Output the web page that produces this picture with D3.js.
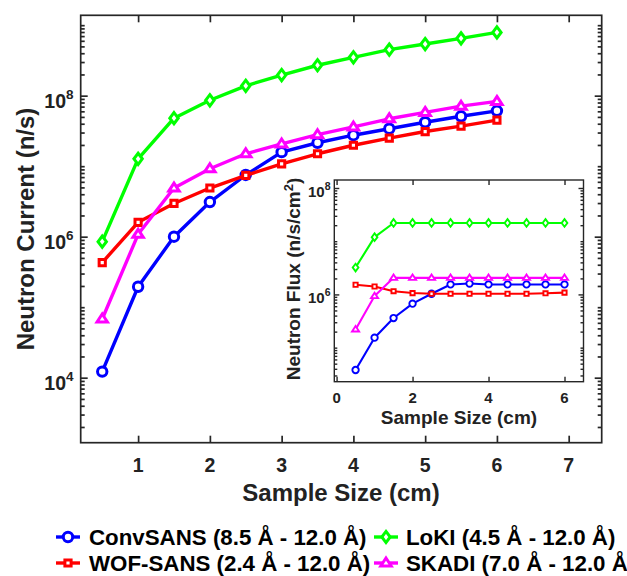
<!DOCTYPE html>
<html><head><meta charset="utf-8">
<script src="https://cdn.jsdelivr.net/npm/d3@7"></script>
<style>
html,body{margin:0;padding:0;background:#fff;}
svg{display:block;font-family:"Liberation Sans",Arial,sans-serif;font-weight:bold;}
</style></head>
<body>
<svg id="chart" width="627" height="576"></svg>
<script>
// ---------- data ----------
const sampleSizes = [0.5, 1, 1.5, 2, 2.5, 3, 3.5, 4, 4.5, 5, 5.5, 6];
const seriesNames = ["ConvSANS (8.5 Å - 12.0 Å)", "WOF-SANS (2.4 Å - 12.0 Å)", "LoKI (4.5 Å - 12.0 Å)", "SKADI (7.0 Å - 12.0 Å)"];
const seriesColors = ["#0000ff", "#ff0000", "#00ff00", "#ff00ff"];
const seriesMarkers = ["circle", "square", "diamond", "triangle"];
// Neutron current (n/s)
const convCurrent  = [1.22e4, 1.95e5, 1.0e6, 3.1e6, 7.5e6, 1.58e7, 2.15e7, 2.75e7, 3.4e7, 4.2e7, 5.1e7, 6.1e7];
const wofCurrent   = [4.3e5, 1.6e6, 2.96e6, 4.9e6, 7.4e6, 1.08e7, 1.5e7, 1.98e7, 2.5e7, 3.1e7, 3.7e7, 4.5e7];
const lokiCurrent  = [8.5e5, 1.27e7, 4.8e7, 8.6e7, 1.38e8, 1.96e8, 2.7e8, 3.5e8, 4.5e8, 5.4e8, 6.5e8, 7.9e8];
const skadiCurrent = [6.8e4, 1.08e6, 4.9e6, 9.2e6, 1.5e7, 2.07e7, 2.8e7, 3.6e7, 4.7e7, 5.8e7, 7.1e7, 8.3e7];
// Neutron flux (n/s/cm^2), inset
const convFlux  = [3.8e4, 1.54e5, 3.6e5, 6.7e5, 1.03e6, 1.54e6, 1.6e6, 1.54e6, 1.54e6, 1.54e6, 1.54e6, 1.54e6];
const wofFlux   = [1.52e6, 1.41e6, 1.15e6, 1.06e6, 1.03e6, 1.03e6, 1.03e6, 1.03e6, 1.03e6, 1.03e6, 1.05e6, 1.08e6];
const lokiFlux  = [3.2e6, 1.19e7, 2.2e7, 2.2e7, 2.2e7, 2.2e7, 2.2e7, 2.2e7, 2.2e7, 2.2e7, 2.2e7, 2.2e7];
const skadiFlux = [2.2e5, 9.3e5, 2.05e6, 2.05e6, 2.05e6, 2.05e6, 2.05e6, 2.05e6, 2.05e6, 2.05e6, 2.05e6, 2.05e6];
const mainXTicks = [1, 2, 3, 4, 5, 6, 7];
const mainYLabels = [1e4, 1e6, 1e8];
const insetXTicks = [0, 2, 4, 6];
const insetYLabels = [1e6, 1e8];

const currents = [convCurrent, wofCurrent, lokiCurrent, skadiCurrent];
const fluxes = [convFlux, wofFlux, lokiFlux, skadiFlux];

const svg = d3.select("#chart");
const AX = "#262626", TXT = "#222";

function markerPath(type, s) {
  if (type === "circle") return d3.arc()({innerRadius:0, outerRadius:4.7*s, startAngle:0, endAngle:2*Math.PI});
  if (type === "square") { const h = 3.1*s; return `M${-h},${-h}H${h}V${h}H${-h}Z`; }
  if (type === "diamond") { const w = 4.2*s, h = 5.6*s; return `M0,${-h}L${w},0L0,${h}L${-w},0Z`; }
  const w = 5.2*s, h = 8*s; return `M0,${-h*0.62}L${w},${h*0.38}L${-w},${h*0.38}Z`;
}

function minorVals(domain) {
  const out = [];
  const k0 = Math.floor(Math.log10(domain[0])), k1 = Math.ceil(Math.log10(domain[1]));
  for (let k = k0; k <= k1; k++) for (let m = 1; m <= 9; m++) {
    const v = m * Math.pow(10, k);
    if (v >= domain[0] && v <= domain[1]) out.push(v);
  }
  return out;
}

function drawPanel(o) {
  const g = svg.append("g");
  const [x0, x1] = o.x.range(), [y0, y1] = o.y.range(); // y0 bottom, y1 top
  g.append("rect").attr("x", x0).attr("y", y1).attr("width", x1 - x0).attr("height", y0 - y1)
    .attr("fill", "#fff").attr("stroke", "none");
  const axB = d3.axisBottom(o.x).tickValues(o.xTicks).tickSizeInner(-o.majLen).tickSizeOuter(0).tickFormat("");
  const axT = d3.axisTop(o.x).tickValues(o.xTicks).tickSizeInner(-o.majLen).tickSizeOuter(0).tickFormat("");
  const styleAx = sel => { sel.select(".domain").remove(); sel.selectAll("line").attr("stroke", AX).attr("stroke-width", o.sw); };
  g.append("g").attr("transform", `translate(0,${y0})`).call(axB).call(styleAx);
  g.append("g").attr("transform", `translate(0,${y1})`).call(axT).call(styleAx);
  const dom = o.y.domain();
  const minors = minorVals(dom).filter(v => !o.yLabels.includes(v));
  const axLmin = d3.axisLeft(o.y).tickValues(minors).tickSizeInner(-o.minLen).tickSizeOuter(0).tickFormat("");
  const axRmin = d3.axisRight(o.y).tickValues(minors).tickSizeInner(-o.minLen).tickSizeOuter(0).tickFormat("");
  const axLmaj = d3.axisLeft(o.y).tickValues(o.yLabels).tickSizeInner(-o.majLen).tickSizeOuter(0).tickFormat("");
  const axRmaj = d3.axisRight(o.y).tickValues(o.yLabels).tickSizeInner(-o.majLen).tickSizeOuter(0).tickFormat("");
  [axLmin, axLmaj].forEach(a => g.append("g").attr("transform", `translate(${x0},0)`).call(a).call(styleAx));
  [axRmin, axRmaj].forEach(a => g.append("g").attr("transform", `translate(${x1},0)`).call(a).call(styleAx));
  g.append("rect").attr("x", x0).attr("y", y1).attr("width", x1 - x0).attr("height", y0 - y1)
    .attr("fill", "none").attr("stroke", AX).attr("stroke-width", o.sw);
  g.selectAll(".xl").data(o.xTicks).join("text")
    .attr("x", d => o.x(d)).attr("y", o.xLabBase).attr("text-anchor", "middle")
    .attr("font-size", o.tickFs).attr("fill", TXT).text(d => d);
  o.yLabels.forEach(v => {
    const t = g.append("text").attr("x", o.yLabRight).attr("y", o.y(v) + o.yLabDy)
      .attr("text-anchor", "end").attr("font-size", o.tickFs).attr("fill", TXT);
    t.append("tspan").text("10");
    t.append("tspan").attr("dy", -o.supDy).attr("font-size", o.supFs).text(Math.round(Math.log10(v)));
  });
  const line = d3.line().x((d, i) => o.x(sampleSizes[i])).y(d => o.y(d));
  o.data.forEach((vals, si) => {
    g.append("path").attr("d", line(vals)).attr("fill", "none")
      .attr("stroke", seriesColors[si]).attr("stroke-width", o.lw).attr("stroke-linejoin", "round");
    g.selectAll(null).data(vals).join("path")
      .attr("transform", (d, i) => `translate(${o.x(sampleSizes[i])},${o.y(d)})`)
      .attr("d", markerPath(seriesMarkers[si], o.ms))
      .attr("fill", "#fff").attr("stroke", seriesColors[si]).attr("stroke-width", o.msw)
      .attr("stroke-linejoin", "miter");
  });
  return g;
}

// ---------- main chart ----------
const mx = d3.scaleLinear().domain([0.2, 7.46]).range([80.7, 601.7]);
const my = d3.scaleLog().domain([Math.pow(10, 3.078), Math.pow(10, 9.14)]).range([442.7, 15.3]);
drawPanel({x: mx, y: my, xTicks: mainXTicks, yLabels: mainYLabels, data: currents,
  majLen: 7, minLen: 4, sw: 1.7, tickFs: 19.5, supFs: 13.5, supDy: 9, xLabBase: 471.7,
  yLabRight: 73.5, yLabDy: 12, lw: 3.4, ms: 1, msw: 3});

svg.append("text").attr("x", 341).attr("y", 501).attr("text-anchor", "middle")
  .attr("font-size", 24).attr("fill", TXT).text("Sample Size (cm)");
svg.append("text").attr("transform", "translate(34,229) rotate(-90)").attr("text-anchor", "middle")
  .attr("font-size", 24).attr("fill", TXT).text("Neutron Current (n/s)");

// ---------- inset ----------
const ix = d3.scaleLinear().domain([-0.06, 6.5]).range([334.3, 583.5]);
const iy = d3.scaleLog().domain([Math.pow(10, 4.36), Math.pow(10, 8.15)]).range([381.7, 180]);
drawPanel({x: ix, y: iy, xTicks: insetXTicks, yLabels: insetYLabels, data: fluxes,
  majLen: 5, minLen: 3, sw: 1.4, tickFs: 15, supFs: 10.5, supDy: 7, xLabBase: 402.7,
  yLabRight: 330.5, yLabDy: 9, lw: 2.1, ms: 0.68, msw: 1.9});

svg.append("text").attr("x", 459).attr("y", 423.5).attr("text-anchor", "middle")
  .attr("font-size", 19).attr("fill", TXT).text("Sample Size (cm)");
const iyl = svg.append("text").attr("transform", "translate(300,279) rotate(-90)").attr("text-anchor", "middle")
  .attr("font-size", 19).attr("fill", TXT);
iyl.append("tspan").text("Neutron Flux (n/s/cm");
iyl.append("tspan").attr("dy", -7).attr("font-size", 13).text("2");
iyl.append("tspan").attr("dy", 7).text(")");

// ---------- legend ----------
const legX = [68, 386], legTextX = [89, 406], legBase = [545, 571];
const legOrder = [[0, 0, 0], [1, 0, 1], [2, 1, 0], [3, 1, 1]]; // series, column, row
legOrder.forEach(([si, c, r]) => {
  const cy = legBase[r] - 8;
  svg.append("line").attr("x1", legX[c] - 12).attr("x2", legX[c] + 12).attr("y1", cy).attr("y2", cy)
    .attr("stroke", seriesColors[si]).attr("stroke-width", 3.4);
  svg.append("path").attr("transform", `translate(${legX[c]},${cy})`).attr("d", markerPath(seriesMarkers[si], 1))
    .attr("fill", "#fff").attr("stroke", seriesColors[si]).attr("stroke-width", 3);
  svg.append("text").attr("x", legTextX[c]).attr("y", legBase[r]).attr("font-size", 22.3).attr("fill", "#000")
    .text(seriesNames[si]);
});
</script>
</body></html>
